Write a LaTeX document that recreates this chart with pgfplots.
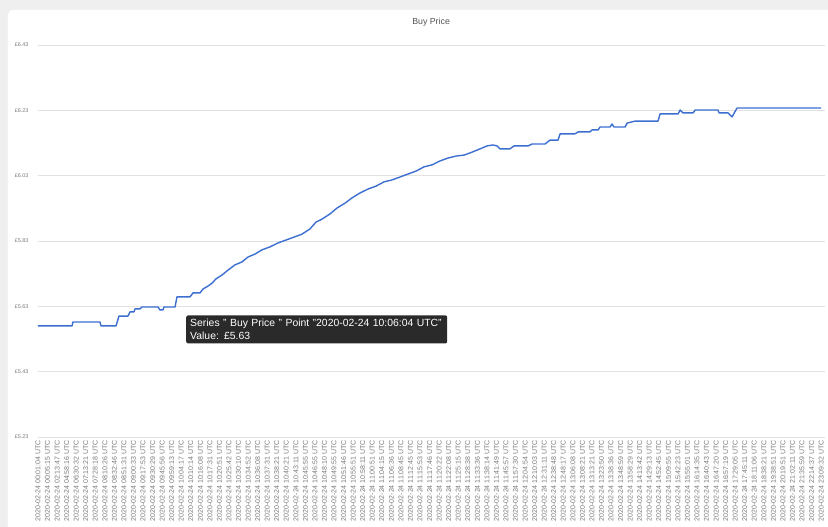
\documentclass[border=0pt]{standalone}
\usepackage{pgfplots}
\pgfplotsset{compat=1.18}
\usepackage{fontspec}
\setmainfont{Liberation Sans}
\definecolor{bggray}{HTML}{EFEFEF}
\definecolor{gridgray}{HTML}{E2E2E2}
\definecolor{labgray}{HTML}{7A7A7A}
\definecolor{titlegray}{HTML}{555555}
\definecolor{lineblue}{HTML}{3D6FD1}
\definecolor{tipbg}{HTML}{2A2A2A}
\begin{document}
\begin{tikzpicture}
\useasboundingbox (-38pt,-90pt) rectangle (790pt,437pt);
\fill[bggray] (-38pt,-90pt) rectangle (790pt,437pt);
\fill[white, rounded corners=5pt] (-30pt,-100pt) rectangle (800pt,427pt);
\begin{axis}[
  at={(0pt,0pt)}, anchor=south west,
  width=787pt, height=392pt, scale only axis,
  xmin=0, xmax=82.4, ymin=5.23, ymax=6.43,
  clip=false,
  axis line style={draw=none},
  ytick={5.23,5.43,5.63,5.83,6.03,6.23,6.43},
  yticklabels={\pounds5.23,\pounds5.43,\pounds5.63,\pounds5.83,\pounds6.03,\pounds6.23,\pounds6.43},
  ymajorgrids, grid style={gridgray, line width=0.6pt},
  major tick length=0pt,
  yticklabel style={font=\fontsize{5.4}{6}\selectfont, text=labgray, anchor=east},
  yticklabel shift=6pt,
  xtick={0,...,82},
  xticklabels={2020-02-24 00:01:04 UTC,2020-02-24 00:05:15 UTC,2020-02-24 02:13:47 UTC,2020-02-24 04:58:16 UTC,2020-02-24 06:30:32 UTC,2020-02-24 07:13:21 UTC,2020-02-24 07:28:18 UTC,2020-02-24 08:10:26 UTC,2020-02-24 08:32:46 UTC,2020-02-24 08:51:31 UTC,2020-02-24 09:00:33 UTC,2020-02-24 09:17:53 UTC,2020-02-24 09:30:29 UTC,2020-02-24 09:45:56 UTC,2020-02-24 09:59:13 UTC,2020-02-24 10:04:17 UTC,2020-02-24 10:10:14 UTC,2020-02-24 10:16:08 UTC,2020-02-24 10:17:31 UTC,2020-02-24 10:20:51 UTC,2020-02-24 10:25:42 UTC,2020-02-24 10:30:10 UTC,2020-02-24 10:34:52 UTC,2020-02-24 10:36:08 UTC,2020-02-24 10:37:31 UTC,2020-02-24 10:38:21 UTC,2020-02-24 10:40:21 UTC,2020-02-24 10:43:11 UTC,2020-02-24 10:45:55 UTC,2020-02-24 10:46:55 UTC,2020-02-24 10:48:10 UTC,2020-02-24 10:49:55 UTC,2020-02-24 10:51:46 UTC,2020-02-24 10:55:51 UTC,2020-02-24 10:58:11 UTC,2020-02-24 11:00:51 UTC,2020-02-24 11:04:15 UTC,2020-02-24 11:06:36 UTC,2020-02-24 11:08:45 UTC,2020-02-24 11:12:45 UTC,2020-02-24 11:15:53 UTC,2020-02-24 11:17:46 UTC,2020-02-24 11:20:22 UTC,2020-02-24 11:22:08 UTC,2020-02-24 11:25:15 UTC,2020-02-24 11:28:38 UTC,2020-02-24 11:33:36 UTC,2020-02-24 11:38:14 UTC,2020-02-24 11:41:49 UTC,2020-02-24 11:45:57 UTC,2020-02-24 11:57:30 UTC,2020-02-24 12:04:54 UTC,2020-02-24 12:10:03 UTC,2020-02-24 12:31:11 UTC,2020-02-24 12:38:48 UTC,2020-02-24 12:48:17 UTC,2020-02-24 13:06:08 UTC,2020-02-24 13:08:21 UTC,2020-02-24 13:13:21 UTC,2020-02-24 13:23:50 UTC,2020-02-24 13:38:36 UTC,2020-02-24 13:48:59 UTC,2020-02-24 13:58:29 UTC,2020-02-24 14:13:42 UTC,2020-02-24 14:29:13 UTC,2020-02-24 14:52:45 UTC,2020-02-24 15:09:55 UTC,2020-02-24 15:42:23 UTC,2020-02-24 15:55:01 UTC,2020-02-24 16:14:35 UTC,2020-02-24 16:40:43 UTC,2020-02-24 16:47:20 UTC,2020-02-24 16:57:19 UTC,2020-02-24 17:29:05 UTC,2020-02-24 17:45:11 UTC,2020-02-24 18:11:06 UTC,2020-02-24 18:38:21 UTC,2020-02-24 19:38:51 UTC,2020-02-24 20:19:51 UTC,2020-02-24 21:02:11 UTC,2020-02-24 21:35:59 UTC,2020-02-24 22:14:37 UTC,2020-02-24 23:09:32 UTC},
  xticklabel style={rotate=90, anchor=east, font=\fontsize{7}{7}\selectfont, text=labgray, inner sep=1pt},
  xticklabel shift=2pt,
]
\addplot[lineblue, line width=1.4pt, line join=round] coordinates {
(0,5.570) (3.56,5.570) (3.66,5.582) (6.49,5.582) (6.60,5.570) (8.17,5.570)
(8.48,5.600) (9.42,5.600) (9.63,5.613) (10.05,5.613) (10.16,5.622) (10.68,5.622)
(10.89,5.628) (12.57,5.628) (12.77,5.619) (13.09,5.619) (13.19,5.628) (14.35,5.628)
(14.55,5.659) (15.92,5.659) (16.23,5.671) (16.96,5.671) (17.28,5.683) (17.80,5.692)
(18.22,5.701) (18.64,5.714) (19.27,5.726) (19.90,5.741) (20.63,5.757) (21.36,5.766)
(21.99,5.781) (22.72,5.790) (23.46,5.803) (24.29,5.812) (25.13,5.824) (25.97,5.833)
(26.81,5.842) (27.64,5.851) (28.48,5.867) (29.11,5.888) (29.74,5.897) (30.58,5.913)
(31.31,5.931) (32.15,5.946) (32.88,5.962) (33.72,5.977) (34.55,5.989) (35.39,5.998)
(36.23,6.011) (37.07,6.017) (37.91,6.026) (38.74,6.035) (39.58,6.044) (40.42,6.057)
(41.26,6.063) (42.09,6.075) (42.93,6.084) (43.77,6.090) (44.61,6.093) (45.45,6.102)
(46.28,6.112) (47.02,6.121) (47.64,6.124) (48.06,6.121) (48.38,6.112) (49.42,6.112)
(49.84,6.121) (51.31,6.121) (51.73,6.127) (53.09,6.127) (53.61,6.139) (54.45,6.139)
(54.66,6.158) (56.23,6.158) (56.55,6.164) (57.80,6.164) (58.01,6.170) (58.64,6.170)
(58.85,6.179) (59.90,6.179) (60.10,6.188) (60.31,6.179) (61.47,6.179) (61.68,6.191)
(62.51,6.197) (64.92,6.197) (65.13,6.219) (67.02,6.219) (67.23,6.231) (67.54,6.222)
(68.59,6.222) (68.80,6.231) (71.20,6.231) (71.31,6.222) (72.25,6.222) (72.67,6.210)
(73.19,6.237) (82,6.237)
};
\node[font=\fontsize{8.8}{10}\selectfont, text=titlegray] at (rel axis cs:0.4995,1) [yshift=23pt] {Buy Price};
\node[anchor=north west, fill=tipbg, rounded corners=2pt, text=white, text width=253pt, inner sep=4pt, minimum height=28pt, align=left, font=\fontsize{10.4}{12.5}\selectfont] at (axis cs:15.5,5.603) {Series " Buy Price " Point "2020-02-24 10:06:04 UTC"\\Value: \pounds5.63};
\end{axis}
\end{tikzpicture}
\end{document}
